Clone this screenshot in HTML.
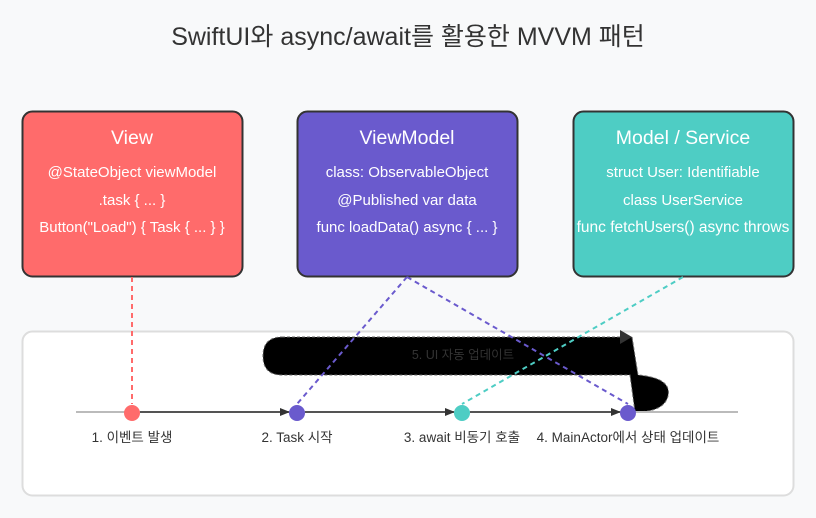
<!DOCTYPE html>
<html><head><meta charset="utf-8"><style>
html,body{margin:0;padding:0;background:#f8f9fa;}
svg{display:block;font-family:"Liberation Sans","Noto Sans CJK KR",sans-serif;}
</style></head><body>
<svg width="816" height="518" viewBox="0 0 816 518" xmlns="http://www.w3.org/2000/svg">
<defs>
<marker id="ah" markerWidth="10" markerHeight="8" refX="9" refY="4" orient="auto" markerUnits="userSpaceOnUse"><path d="M0,0 L10,4 L0,8 Z" fill="#333"/></marker>
</defs>
<rect width="816" height="518" fill="#f8f9fa"/>
<text x="408" y="45" text-anchor="middle" font-size="25" fill="#333">SwiftUI와 async/await를 활용한 MVVM 패턴</text>

<rect x="22.5" y="111.5" width="220" height="165" rx="10" fill="#ff6b6b" stroke="#333" stroke-width="2"/>
<rect x="297.5" y="111.5" width="220" height="165" rx="10" fill="#6a5acd" stroke="#333" stroke-width="2"/>
<rect x="573.5" y="111.5" width="220" height="165" rx="10" fill="#4ecdc4" stroke="#333" stroke-width="2"/>
<g fill="#fff" text-anchor="middle">
<text x="132" y="144" font-size="19.5">View</text>
<text x="132" y="177" font-size="15">@StateObject viewModel</text>
<text x="132" y="205" font-size="15">.task { ... }</text>
<text x="132" y="232" font-size="15">Button("Load") { Task { ... } }</text>
<text x="407" y="144" font-size="19.5">ViewModel</text>
<text x="407" y="177" font-size="15">class: ObservableObject</text>
<text x="407" y="205" font-size="15">@Published var data</text>
<text x="407" y="232" font-size="15">func loadData() async { ... }</text>
<text x="683" y="144" font-size="19.5">Model / Service</text>
<text x="683" y="177" font-size="15">struct User: Identifiable</text>
<text x="683" y="205" font-size="15">class UserService</text>
<text x="683" y="232" font-size="15.5">func fetchUsers() async throws</text>
</g>

<rect x="22.5" y="331.5" width="771" height="164" rx="10" fill="#fff" stroke="#ddd" stroke-width="2"/>

<path d="M282,337 L632,337 L638,375 Q672,378 668,396 Q664,412 635,412 L630,375 L282,375 Q263,375 263,356 Q263,337 282,337 Z" fill="#000" stroke="#666" stroke-dasharray="3,2"/>
<path d="M620,330 L632,337 L620,344 Z" fill="#333"/>
<text x="463" y="359" text-anchor="middle" font-size="12.5" fill="#333">5. UI 자동 업데이트</text>

<line x1="76" y1="412" x2="738" y2="412" stroke="#bbb" stroke-width="2"/>
<line x1="140" y1="412" x2="289" y2="412" stroke="#333" stroke-width="1.5" marker-end="url(#ah)"/>
<line x1="305" y1="412" x2="454" y2="412" stroke="#333" stroke-width="1.5" marker-end="url(#ah)"/>
<line x1="470" y1="412" x2="620" y2="412" stroke="#333" stroke-width="1.5" marker-end="url(#ah)"/>

<line x1="132" y1="277" x2="132" y2="404" stroke="#ff6b6b" stroke-width="2" stroke-dasharray="5,4"/>
<line x1="407" y1="277" x2="297" y2="404" stroke="#6a5acd" stroke-width="2" stroke-dasharray="5,4"/>
<line x1="407" y1="277" x2="628" y2="404" stroke="#6a5acd" stroke-width="2" stroke-dasharray="5,4"/>
<line x1="683" y1="277" x2="462" y2="404" stroke="#4ecdc4" stroke-width="2" stroke-dasharray="5,4"/>

<circle cx="132" cy="413" r="8" fill="#ff6b6b"/>
<circle cx="297" cy="413" r="8" fill="#6a5acd"/>
<circle cx="462" cy="413" r="8" fill="#4ecdc4"/>
<circle cx="628" cy="413" r="8" fill="#6a5acd"/>

<g font-size="13.5" fill="#333" text-anchor="middle">
<text x="132" y="442">1. 이벤트 발생</text>
<text x="297" y="442">2. Task 시작</text>
<text x="462" y="442">3. await 비동기 호출</text>
<text x="628" y="442">4. MainActor에서 상태 업데이트</text>
</g>
</svg>
</body></html>
